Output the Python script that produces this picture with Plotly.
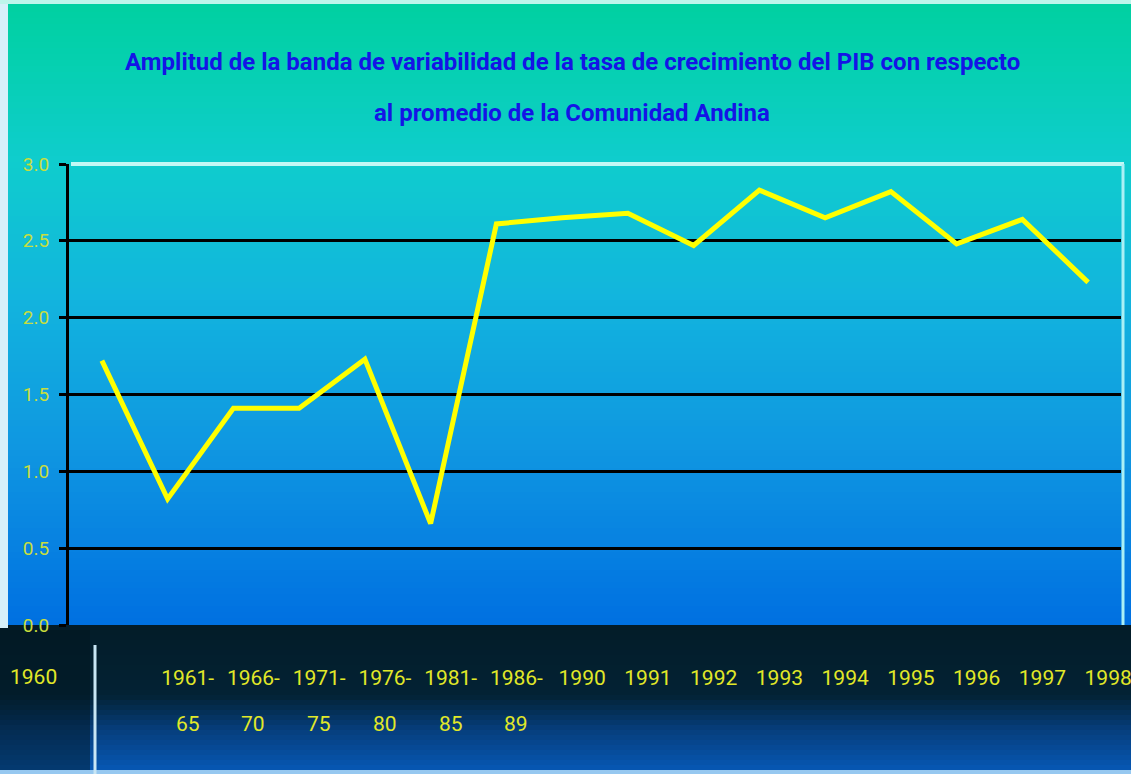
import plotly.graph_objects as go

# ---------------- data ----------------
categories = ["1960", "1961-65", "1966-70", "1971-75", "1976-80", "1981-85", "1986-89",
              "1990", "1991", "1992", "1993", "1994", "1995", "1996", "1997", "1998"]
values = [1.72, 0.82, 1.41, 1.41, 1.73, 0.66, 2.61, 2.65, 2.68, 2.47, 2.83, 2.65, 2.82, 2.48, 2.64, 2.23]
y_ticks = [0.0, 0.5, 1.0, 1.5, 2.0, 2.5, 3.0]
title_lines = ["Amplitud de la banda de variabilidad de la tasa de crecimiento del PIB con respecto",
               "al promedio de la Comunidad Andina"]

# ---------------- layout geometry (pixels) ----------------
W, H = 1131, 774
L, R, T, B = 69, 1121, 164, 625
PW, PH = R - L, B - T

def px(x):
    return (x - L) / PW

def py(y):
    return (B - y) / PH

NARROW = "Liberation Sans Narrow, Arial Narrow, Roboto, sans-serif"

# ---------------- background gradient ----------------
stops = [(0, (0, 208, 160)), (60, (5, 208, 175)), (160, (15, 205, 205)),
         (300, (18, 180, 222)), (450, (15, 150, 225)), (625, (0, 112, 225))]

def colat(y, st):
    for (y0, c0), (y1, c1) in zip(st[:-1], st[1:]):
        if y0 <= y <= y1:
            t = (y - y0) / (y1 - y0) if y1 > y0 else 0
            return tuple(round(a + (b - a) * t) for a, b in zip(c0, c1))
    return st[-1][1]

shapes = []
step = 6
y = 0
while y < 625:
    y2 = min(y + step, 625)
    c = colat((y + y2) / 2, stops)
    shapes.append(dict(type="rect", xref="paper", yref="paper", x0=px(0), x1=px(W),
                       y0=py(y2), y1=py(y), line_width=0, fillcolor="rgb(%d,%d,%d)" % c,
                       layer="below"))
    y = y2

# bottom band
band_stops = [(625, (3, 28, 40)), (695, (3, 34, 52)), (730, (6, 62, 125)), (770, (6, 88, 180))]
y = 625
while y < 770:
    y2 = min(y + 5, 770)
    c = colat((y + y2) / 2, band_stops)
    shapes.append(dict(type="rect", xref="paper", yref="paper", x0=px(0), x1=px(W),
                       y0=py(y2), y1=py(y), line_width=0, fillcolor="rgb(%d,%d,%d)" % c,
                       layer="below"))
    y = y2
shapes.append(dict(type="rect", xref="paper", yref="paper", x0=px(0), x1=px(W),
                   y0=py(H), y1=py(770), line_width=0, fillcolor="rgb(150,200,240)", layer="below"))
# left dark box in band
shapes.append(dict(type="rect", xref="paper", yref="paper", x0=px(0), x1=px(90),
                   y0=py(770), y1=py(630), line_width=0, fillcolor="rgba(2,22,32,0.45)", layer="below"))
shapes.append(dict(type="line", xref="paper", yref="paper", x0=px(95), x1=px(95),
                   y0=py(774), y1=py(645), line=dict(color="rgb(200,230,245)", width=3)))
# light edges of picture
shapes.append(dict(type="rect", xref="paper", yref="paper", x0=px(0), x1=px(8),
                   y0=py(628), y1=py(0), line_width=0, fillcolor="rgb(215,240,250)", layer="below"))
shapes.append(dict(type="rect", xref="paper", yref="paper", x0=px(0), x1=px(W),
                   y0=py(4), y1=py(0), line_width=0, fillcolor="rgb(190,245,235)", layer="below"))
# light top & right border of plot area
shapes.append(dict(type="line", xref="paper", yref="paper", x0=px(L + 2), x1=px(1124),
                   y0=1, y1=1, line=dict(color="rgb(195,248,245)", width=4), layer="above"))
shapes.append(dict(type="line", xref="paper", yref="paper", x0=px(1123), x1=px(1123),
                   y0=0, y1=1, line=dict(color="rgb(170,240,245)", width=3), layer="above"))

# ---------------- figure ----------------
fig = go.Figure()
fig.add_trace(go.Scatter(x=categories, y=values, mode="lines",
                         line=dict(color="#ffff00", width=5), hoverinfo="skip",
                         showlegend=False))

line1 = [c.split("-")[0] + "-" if "-" in c else c for c in categories]
line2 = [c.split("-")[1] if "-" in c else "" for c in categories]

annotations = []
for i, t in enumerate(title_lines):
    annotations.append(dict(text="<b>%s</b>" % t, xref="paper", yref="paper",
                            x=px(572), y=py([62, 113][i]), showarrow=False,
                            xanchor="center", yanchor="middle",
                            font=dict(family=NARROW, size=24, color="rgb(20,20,230)")))
for c, t in zip(categories, line2):
    if t:
        annotations.append(dict(text=t, xref="x", yref="paper", x=c, y=py(724),
                                xshift=20, showarrow=False, xanchor="center", yanchor="middle",
                                font=dict(family=NARROW, size=21, color="rgb(225,232,40)")))
# first category label sits in the left box
annotations.append(dict(text=line1[0], xref="paper", yref="paper", x=px(33), y=py(677),
                        showarrow=False, xanchor="center", yanchor="middle",
                        font=dict(family=NARROW, size=21, color="rgb(225,232,40)")))

fig.update_layout(
    width=W, height=H,
    margin=dict(l=L, r=W - R, t=T, b=H - B, pad=0, autoexpand=False),
    paper_bgcolor="rgb(0,150,220)",
    plot_bgcolor="rgba(0,0,0,0)",
    shapes=shapes,
    annotations=annotations,
    xaxis=dict(type="category", range=[-0.5, len(categories) - 0.5], automargin=False,
               tickmode="array", tickvals=categories, ticktext=[""] + line1[1:],
               showgrid=False, zeroline=False, showline=False, ticks="",
               ticklabelshift=20, ticklabelstandoff=38,
               tickfont=dict(family=NARROW, size=21, color="rgb(225,232,40)")),
    yaxis=dict(range=[0, 3.0], tickmode="array", tickvals=y_ticks, automargin=False,
               ticktext=["%.1f" % v for v in y_ticks],
               showgrid=True, gridcolor="#000000", gridwidth=3, zeroline=False,
               showline=True, linecolor="#000000", linewidth=3,
               ticks="outside", ticklen=7, tickwidth=3, tickcolor="#000000",
               ticklabelstandoff=6,
               tickfont=dict(family=NARROW, size=19, color="rgb(200,222,60)")),
)

fig.write_html("out.html")
